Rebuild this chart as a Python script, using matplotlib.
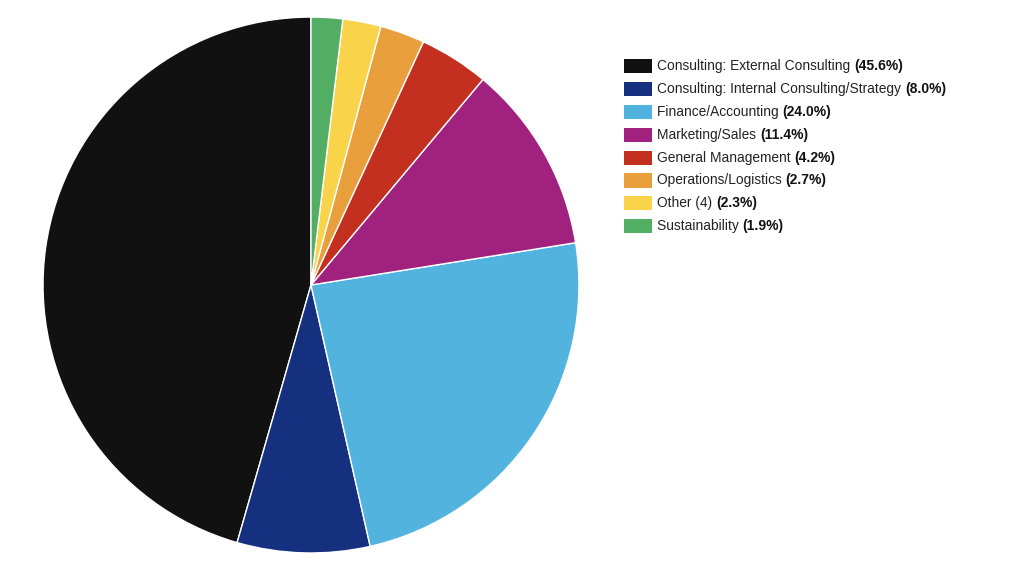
import matplotlib
matplotlib.use('Agg')
import matplotlib.pyplot as plt

labels = ['Consulting: External Consulting', 'Consulting: Internal Consulting/Strategy',
          'Finance/Accounting', 'Marketing/Sales', 'General Management',
          'Operations/Logistics', 'Other (4)', 'Sustainability']
shares = [45.6, 8.0, 24.0, 11.4, 4.2, 2.7, 2.3, 1.9]
colors = ['#111111', '#15307f', '#52b4de', '#a0217e', '#c4301f', '#e9a03c', '#f9d349', '#52ae62']

plt.rcParams['font.family'] = ['Liberation Sans', 'DejaVu Sans']

fig = plt.figure(figsize=(10.24, 5.8), dpi=100)
ax = fig.add_axes([0.042, 0.0466, 0.5234, 0.924])
ax.pie(shares, colors=colors, startangle=90, counterclock=True,
       wedgeprops={'edgecolor': 'white', 'linewidth': 1.0})
ax.set_xlim(-1.0, 1.0)
ax.set_ylim(-1.0, 1.0)
ax.set_aspect('equal')
ax.axis('off')

# legend drawn by hand so the percentage can be bold
W, H = 1024, 580
y0 = 66
step = 22.9
for i, (lab, val, col) in enumerate(zip(labels, shares, colors)):
    yc = y0 + i * step
    fig.patches.append(plt.Rectangle((624 / W, 1 - (yc + 7) / H), 28 / W, 14 / H,
                                     transform=fig.transFigure, facecolor=col,
                                     edgecolor='none'))
    t = fig.text(657 / W, 1 - yc / H, lab + ' ', fontsize=9.9, color='#222222',
                 va='center', ha='left')
    ax.annotate(f'({val:.1f}%)', xy=(1, 0.5), xycoords=t, fontsize=10,
                fontweight='bold', color='#111111', va='center', ha='left',
                annotation_clip=False)

fig.savefig('out.png', dpi=100)
